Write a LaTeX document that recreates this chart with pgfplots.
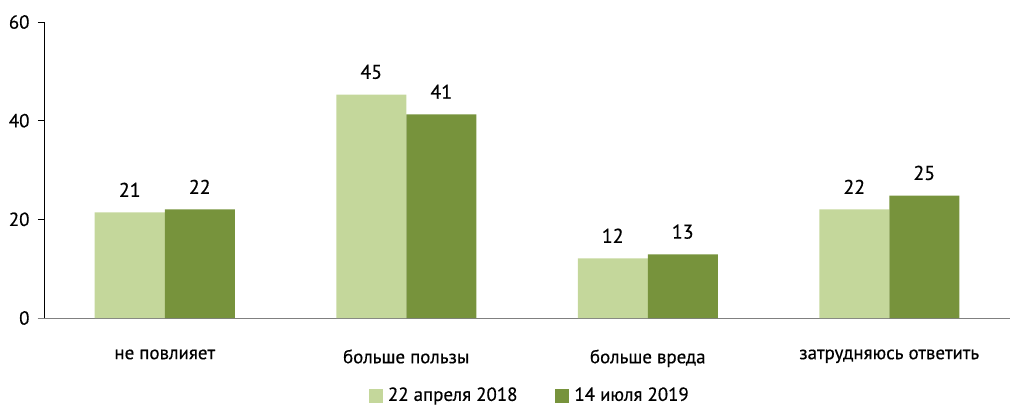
\documentclass[border=0pt]{standalone}
\usepackage{fontspec}
\setmainfont{PT Sans}[UprightFeatures={FakeBold=0.4}]
\usepackage{pgfplots}
\pgfplotsset{compat=1.18}
\definecolor{lightg}{HTML}{C4D79B}
\definecolor{darkg}{HTML}{77933C}
\definecolor{axgray}{HTML}{808080}

\begin{document}
\fontsize{19}{22}\selectfont
\begin{tikzpicture}
\useasboundingbox (-44bp,-87bp) rectangle (967bp,318bp);
\begin{axis}[
    at={(0,0)}, anchor=south west,
    scale only axis,
    width=966bp, height=296bp,
    ybar=0pt, bar width=70bp,
    xmin=-0.5, xmax=3.5,
    ymin=0, ymax=60,
    ytick={0,20,40,60},
    xtick={0,1,2,3},
    xticklabels={не повлияет, больше пользы, больше вреда, затрудняюсь ответить},
    extra x ticks={-0.5,0.5,1.5,2.5},
    extra x tick labels={},
    extra x tick style={major tick length=7bp, tick style={axgray, line width=0.8pt}},
    x tick style={draw=none},
    xtick align=outside,
    ytick align=outside,
    major tick length=6bp,
    y tick style={black, line width=0.8pt},
    axis x line*=bottom,
    axis y line*=left,
    x axis line style={axgray, line width=1pt, -, shorten <=-6bp},
    y axis line style={black, line width=0.8pt, -},
    xticklabel style={yshift=-19bp},
    yticklabel style={xshift=-2bp},
    /pgf/number format/assume math mode=true,
    nodes near coords,
    nodes near coords style={anchor=south, yshift=9bp, font=\fontsize{20}{22}\selectfont,
        /pgf/number format/fixed, /pgf/number format/precision=0},
    legend style={at={(0.503,-0.262)}, anchor=center, draw=none, legend columns=2,
        /tikz/every even column/.append style={column sep=36bp}},
    legend image code/.code={\fill[#1, draw=none] (0bp,-7bp) rectangle (14bp,7bp); \path (17bp,0bp);},
]
\addplot[fill=lightg, draw=none] coordinates {(0,21.4) (1,45.3) (2,12.1) (3,22.0)};
\addplot[fill=darkg, draw=none] coordinates {(0,22.0) (1,41.3) (2,12.9) (3,24.8)};
\legend{22 апреля 2018, 14 июля 2019}
\end{axis}
\end{tikzpicture}
\end{document}
